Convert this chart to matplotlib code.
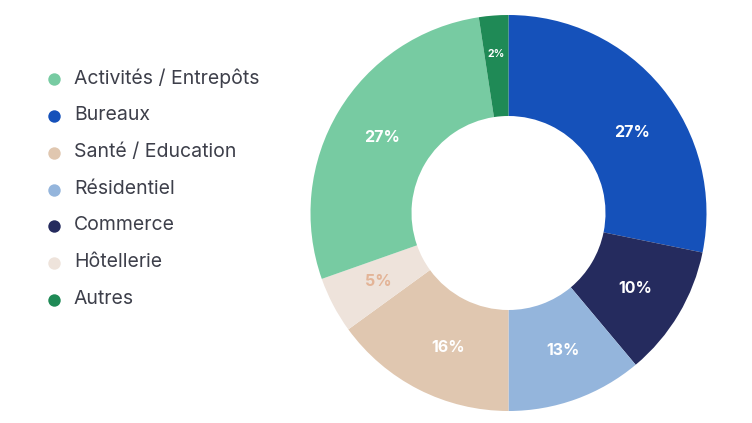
import matplotlib
matplotlib.use("Agg")
import matplotlib.pyplot as plt
import numpy as np

# Pie order (clockwise from top)
categories = ["Bureaux", "Commerce", "Résidentiel", "Santé / Education",
              "Hôtellerie", "Activités / Entrepôts", "Autres"]
shares = [28.2, 10.7, 11.1, 15.0, 4.6, 28.0, 2.4]
pct_labels = ["27%", "10%", "13%", "16%", "5%", "27%", "2%"]
colors = {
    "Activités / Entrepôts": "#77CBA2",
    "Bureaux": "#1551BA",
    "Santé / Education": "#E0C7B0",
    "Résidentiel": "#94B5DC",
    "Commerce": "#252B5E",
    "Hôtellerie": "#EEE3DB",
    "Autres": "#1F8A56",
}
label_colors = {"Hôtellerie": "#E3B497"}
legend_order = ["Activités / Entrepôts", "Bureaux", "Santé / Education",
                "Résidentiel", "Commerce", "Hôtellerie", "Autres"]

W, H = 752, 423
fig = plt.figure(figsize=(W / 100, H / 100), dpi=100)
fig.patch.set_facecolor("white")

cx, cy, R = 508.5, 213, 198
inner = 97 / R
ax = fig.add_axes([(cx - R) / W, (H - cy - R) / H, 2 * R / W, 2 * R / H])

wedges, _ = ax.pie(shares, colors=[colors[c] for c in categories],
                   startangle=90, counterclock=False, radius=1,
                   wedgeprops=dict(width=1 - inner, linewidth=0))
ax.set_xlim(-1, 1)
ax.set_ylim(-1, 1)
ax.set_aspect("equal")
ax.axis("off")

mid_r = (1 + inner) / 2
angle_nudge = {"Bureaux": -6, "Santé / Education": 3, "Résidentiel": 1.5}
for w, lab, cat in zip(wedges, pct_labels, categories):
    ang = np.deg2rad((w.theta1 + w.theta2) / 2 + angle_nudge.get(cat, 0))
    r = mid_r * (1.08 if cat == "Autres" else 1.0)
    fs = 7.5 if cat == "Autres" else 11.5
    ax.text(r * np.cos(ang), r * np.sin(ang), lab, ha="center", va="center",
            fontsize=fs, fontweight="bold", family="Inter",
            color=label_colors.get(cat, "white"))

# Legend
lax = fig.add_axes([0, 0, 1, 1])
lax.set_xlim(0, W)
lax.set_ylim(H, 0)
lax.axis("off")
y0, dy = 79.5, 36.7
for i, cat in enumerate(legend_order):
    y = y0 + i * dy
    lax.scatter([53.5], [y], s=80, color=colors[cat], linewidths=0)
    lax.text(74, y - 1, cat, ha="left", va="center", fontsize=14,
             family="Inter", color="#3d3f4a")

fig.savefig("out.png", dpi=100, facecolor="white")
